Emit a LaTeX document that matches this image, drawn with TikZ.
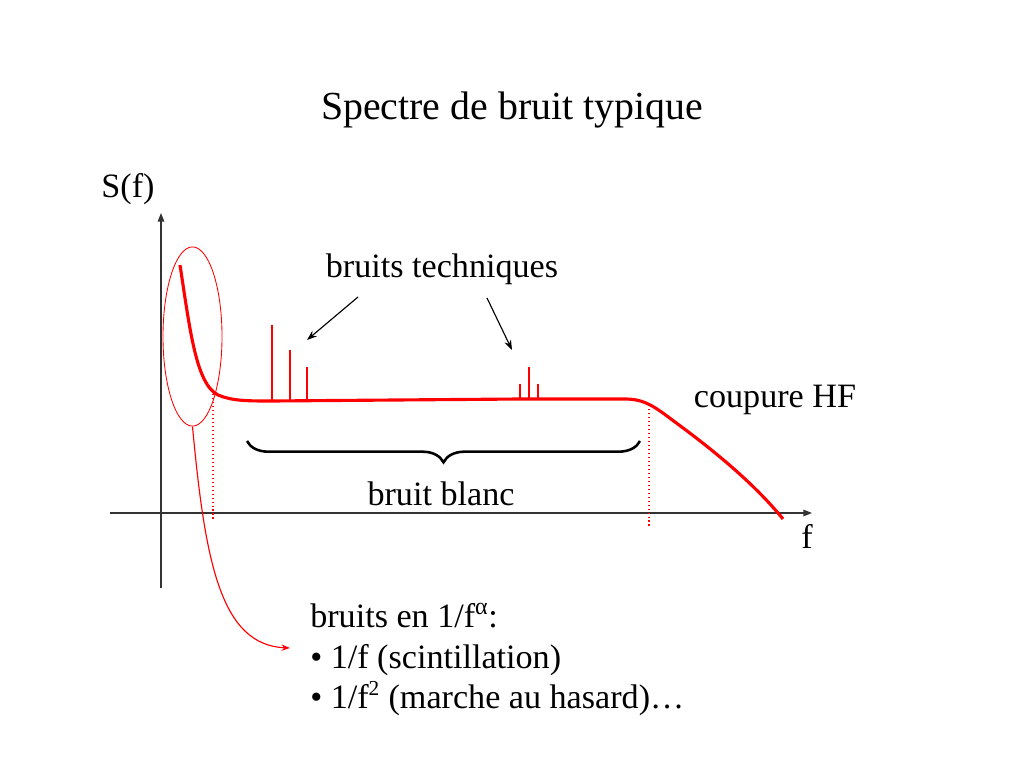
\documentclass[tikz,border=0pt]{standalone}
\usepackage{fontspec}
\setmainfont{Liberation Serif}
\usetikzlibrary{arrows.meta,decorations.pathreplacing,shapes.geometric}

\begin{document}
\begin{tikzpicture}[x=0.703125pt,y=-0.703125pt,
	texte/.style={font=\fontsize{24}{28}\selectfont, inner sep=0pt},
	axe/.style={line width=1pt, draw=black!80, -{Triangle[length=6pt,width=4.5pt]}},
	spectre/.style={red, line width=2.2pt},
	raie/.style={red, line width=1.8pt},
	repere/.style={red, line width=0.8pt, dotted},
	fleche/.style={line width=0.8pt, -{Stealth[length=7pt,width=5pt]}}]
	\useasboundingbox (0,0) rectangle (1024,768);
%	% Title
	\node[texte, font=\fontsize{28}{32}\selectfont, anchor=base] (titre) at (512,120) {Spectre de bruit typique};
%	% Axes
	\coordinate (ybas) at (161,588);
	\coordinate (yhaut) at (161,213);
	\coordinate (xgauche) at (110,513);
	\coordinate (xdroite) at (812,513);
	\draw[axe] (ybas) -- (yhaut);
	\draw[axe] (xgauche) -- (xdroite);
	\node[texte, anchor=base] (sf) at (128,198) {S(f)};
	\node[texte, anchor=base] (f) at (807,548) {f};
%	% Spectrum
	\draw[spectre] (180,265) .. controls (190,330) and (196,384) .. (218,395)
		.. controls (232,401) and (248,401) .. (272,401) -- (520,399) -- (625,399)
		.. controls (645,399) and (655,407) .. (675,422)
		.. controls (720,455) and (757,487) .. (783,519);
%	% Lines
	\foreach \x/\h in {272/325, 290/350, 307/367, 520/384, 529/367, 538/384}
		\draw[raie] (\x,400) -- (\x,\h);
%	% Limits
	\coordinate (bf) at (213,394);
	\coordinate (bfpied) at (213,521);
	\coordinate (hf) at (649,405);
	\coordinate (hfpied) at (649,528);
	\draw[repere] (bf) -- (bfpied);
	\draw[repere] (hf) -- (hfpied);
%	% Low frequency part
	\node[draw=red, line width=0.6pt, ellipse, inner sep=0pt, minimum width=41.5pt, minimum height=126pt] (bassef) at (192.5,336.5) {};
%	% Technical noise
	\node[texte, anchor=base] (tech) at (442,278) {bruits techniques};
	\coordinate (tech1) at (358,297);
	\coordinate (raie1) at (307,340);
	\coordinate (tech2) at (487,298);
	\coordinate (raie2) at (512,350);
	\draw[fleche] (tech1) -- (raie1);
	\draw[fleche] (tech2) -- (raie2);
%	% White noise
	\coordinate (bbdroite) at (640,441);
	\coordinate (bbgauche) at (247,441);
	\draw[line width=1.8pt, decorate, decoration={brace, amplitude=15pt}] (bbdroite) -- (bbgauche);
	\node[texte, anchor=base] (blanc) at (441,505) {bruit blanc};
	\node[texte, anchor=base] (coupure) at (775,407) {coupure HF};
%	% 1/f noise
	\node[texte, anchor=base west] (liste1) at (310,627) {bruits en 1/f\textsuperscript{α}:};
	\node[texte, anchor=base west] (liste2) at (310,668) {• 1/f (scintillation)};
	\node[texte, anchor=base west] (liste3) at (310,708) {• 1/f\textsuperscript{\fontsize{15}{18}\selectfont 2} (marche au hasard)…};
	\coordinate (fleche1f) at (290,648);
	\draw[red, line width=0.8pt, -{Stealth[length=6pt,width=4.5pt]}] (bassef.south) .. controls (205,560) and (220,645) .. (fleche1f);
\end{tikzpicture}
\end{document}
